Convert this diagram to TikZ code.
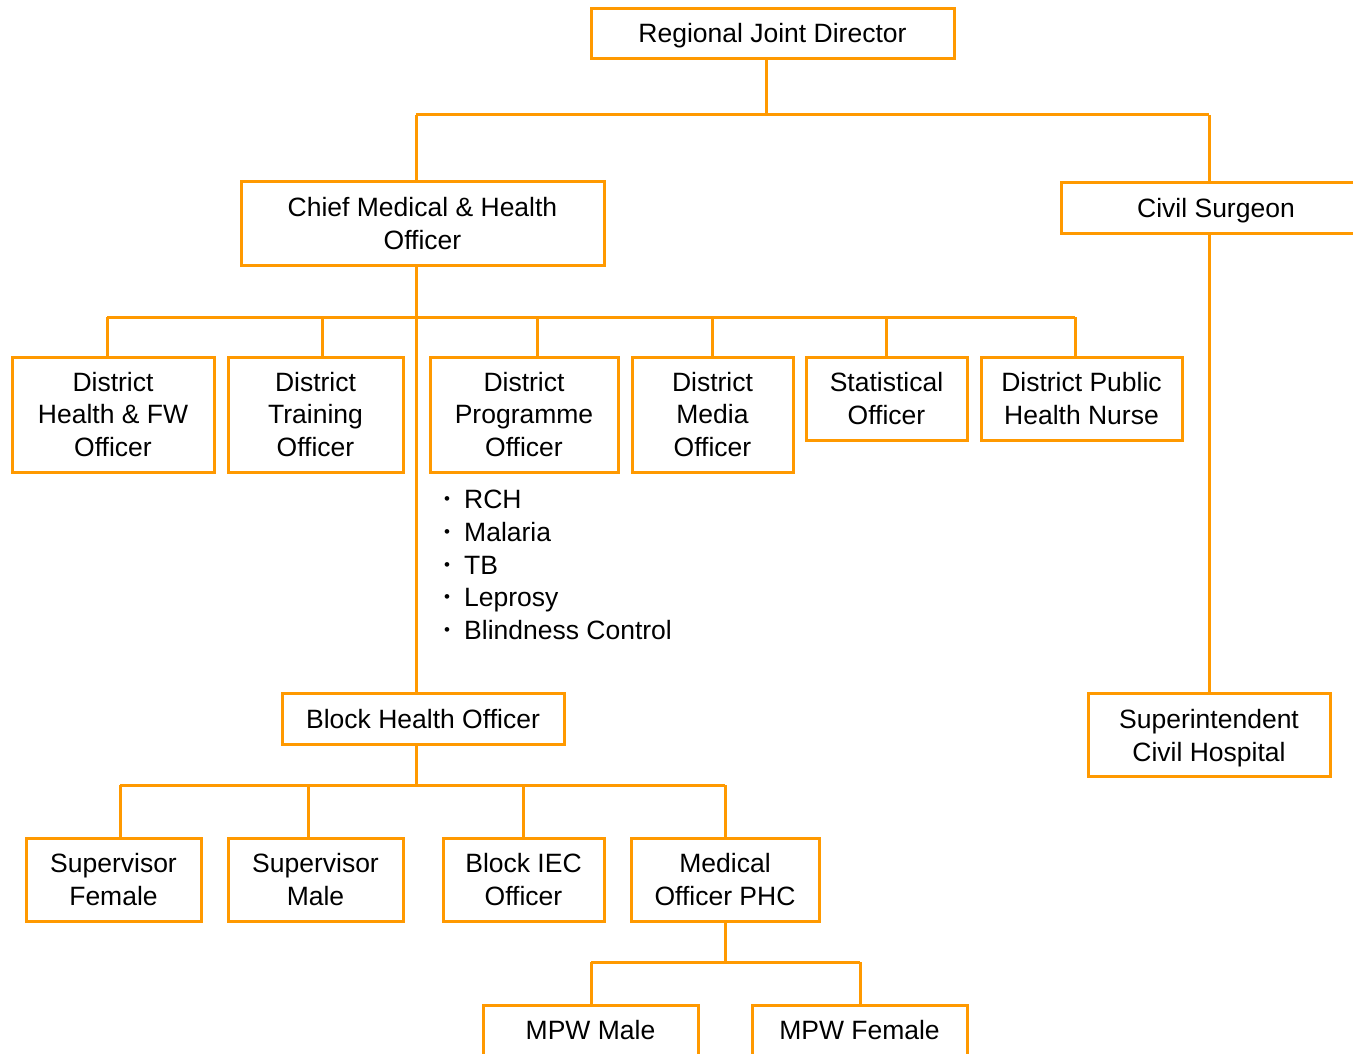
\documentclass[tikz,border=0pt]{standalone}
\usepackage{fontspec}
\setmainfont{Liberation Sans}
\definecolor{org}{RGB}{255,153,0}
\tikzset{
  box/.style={draw=org, line width=3pt, fill=white, inner sep=0pt, align=center,
    font=\fontsize{26.5}{32.5}\selectfont},
  conn/.style={draw=org, line width=3pt},
  itm/.style={anchor=base west, inner sep=0pt, font=\fontsize{26.5}{32.5}\selectfont}
}
\newcommand{\blt}{\makebox[21pt][l]{\hspace{1pt}\raisebox{4pt}{\fontsize{17}{17}\selectfont •}}}
\newcommand{\dn}[2]{\raisebox{-#1}[\height][\depth]{#2}}
\begin{document}
\begin{tikzpicture}[x=1pt,y=-1pt]
\useasboundingbox (0,0) rectangle (1353,1054);
\clip (0,0) rectangle (1353,1054);
\fill[white] (0,0) rectangle (1353,1054);
% coordinates of buses
\coordinate (a1) at (416,115);
\coordinate (a2) at (1209,115);
\coordinate (b0) at (416,317);
\coordinate (b1) at (107,317);
\coordinate (b2) at (322,317);
\coordinate (b3) at (537,317);
\coordinate (b4) at (712,317);
\coordinate (b5) at (886,317);
\coordinate (b6) at (1075,317);
\coordinate (c0) at (416,785);
\coordinate (c1) at (120,785);
\coordinate (c2) at (308,785);
\coordinate (c3) at (523,785);
\coordinate (c4) at (725,785);
\coordinate (d0) at (725,962);
\coordinate (d1) at (591,962);
\coordinate (d2) at (860,962);
\coordinate (a0) at (766,115);

% horizontal buses
\draw[conn] (a1) -- (a2);
\draw[conn] (b1) -- (b6);
\draw[conn] (c1) -- (c4);
\draw[conn] (d1) -- (d2);

% boxes
\node[box, minimum width=363, minimum height=50] (rjd) at (772.5,33.5) {\dn{2.5pt}{Regional Joint Director}};
\node[box, minimum width=363, minimum height=83] (cmho) at (422.5,223.5) {Chief Medical \& Health\\Officer};
\node[box, minimum width=310, minimum height=51] (cs) at (1216,208) {\dn{2.5pt}{Civil Surgeon}};
\node[box, minimum width=202, minimum height=115] (dhfw) at (113,414.5) {District\\Health \& FW\\Officer};
\node[box, minimum width=175, minimum height=115] (dto) at (315.5,414.5) {District\\Training\\Officer};
\node[box, minimum width=188, minimum height=115] (dpo) at (524,414.5) {District\\Programme\\Officer};
\node[box, minimum width=161, minimum height=115] (dmo) at (712.5,414.5) {District\\Media\\Officer};
\node[box, minimum width=161, minimum height=83] (stat) at (886.5,398.5) {Statistical\\Officer};
\node[box, minimum width=201, minimum height=83] (dphn) at (1081.5,398.5) {District Public\\Health Nurse};
\node[box, minimum width=242, minimum height=83] (sup) at (1209,734.5) {\dn{3.5pt}{Superintendent}\\\dn{3.5pt}{Civil Hospital}};
\node[box, minimum width=282, minimum height=51] (bho) at (423,718.5) {\dn{1pt}{Block Health Officer}};
\node[box, minimum width=175, minimum height=83] (sf) at (113.5,879.5) {Supervisor\\Female};
\node[box, minimum width=175, minimum height=83] (sm) at (315.5,879.5) {Supervisor\\Male};
\node[box, minimum width=161, minimum height=83] (iec) at (523.5,879.5) {Block IEC\\Officer};
\node[box, minimum width=188, minimum height=83] (mo) at (725,879.5) {Medical\\Officer PHC};
\node[box, minimum width=215, minimum height=51] (mpwm) at (590.5,1030.5) {MPW Male};
\node[box, minimum width=215, minimum height=51] (mpwf) at (859.5,1030.5) {MPW Female};

% vertical connectors
\draw[conn] (rjd.south -| a0) -- (a0);
\draw[conn] (a1) -- (cmho.north -| a1);
\draw[conn] (a2) -- (cs.north -| a2);
\draw[conn] (cmho.south -| b0) -- (bho.north -| b0);
\draw[conn] (cs.south -| a2) -- (sup.north -| a2);
\draw[conn] (b1) -- (dhfw.north -| b1);
\draw[conn] (b2) -- (dto.north -| b2);
\draw[conn] (b3) -- (dpo.north -| b3);
\draw[conn] (b4) -- (dmo.north -| b4);
\draw[conn] (b5) -- (stat.north -| b5);
\draw[conn] (b6) -- (dphn.north -| b6);
\draw[conn] (bho.south -| c0) -- (c0);
\draw[conn] (c1) -- (sf.north -| c1);
\draw[conn] (c2) -- (sm.north -| c2);
\draw[conn] (c3) -- (iec.north -| c3);
\draw[conn] (c4) -- (mo.north -| c4);
\draw[conn] (mo.south -| d0) -- (d0);
\draw[conn] (d1) -- (mpwm.north -| d1);
\draw[conn] (d2) -- (mpwf.north -| d2);

% bullet list
\node[itm] (l1) at (443,508.5) {\blt RCH};
\node[itm] (l2) at (443,541.2) {\blt Malaria};
\node[itm] (l3) at (443,574) {\blt TB};
\node[itm] (l4) at (443,606.7) {\blt Leprosy};
\node[itm] (l5) at (443,639.5) {\blt Blindness Control};
\end{tikzpicture}
\end{document}
